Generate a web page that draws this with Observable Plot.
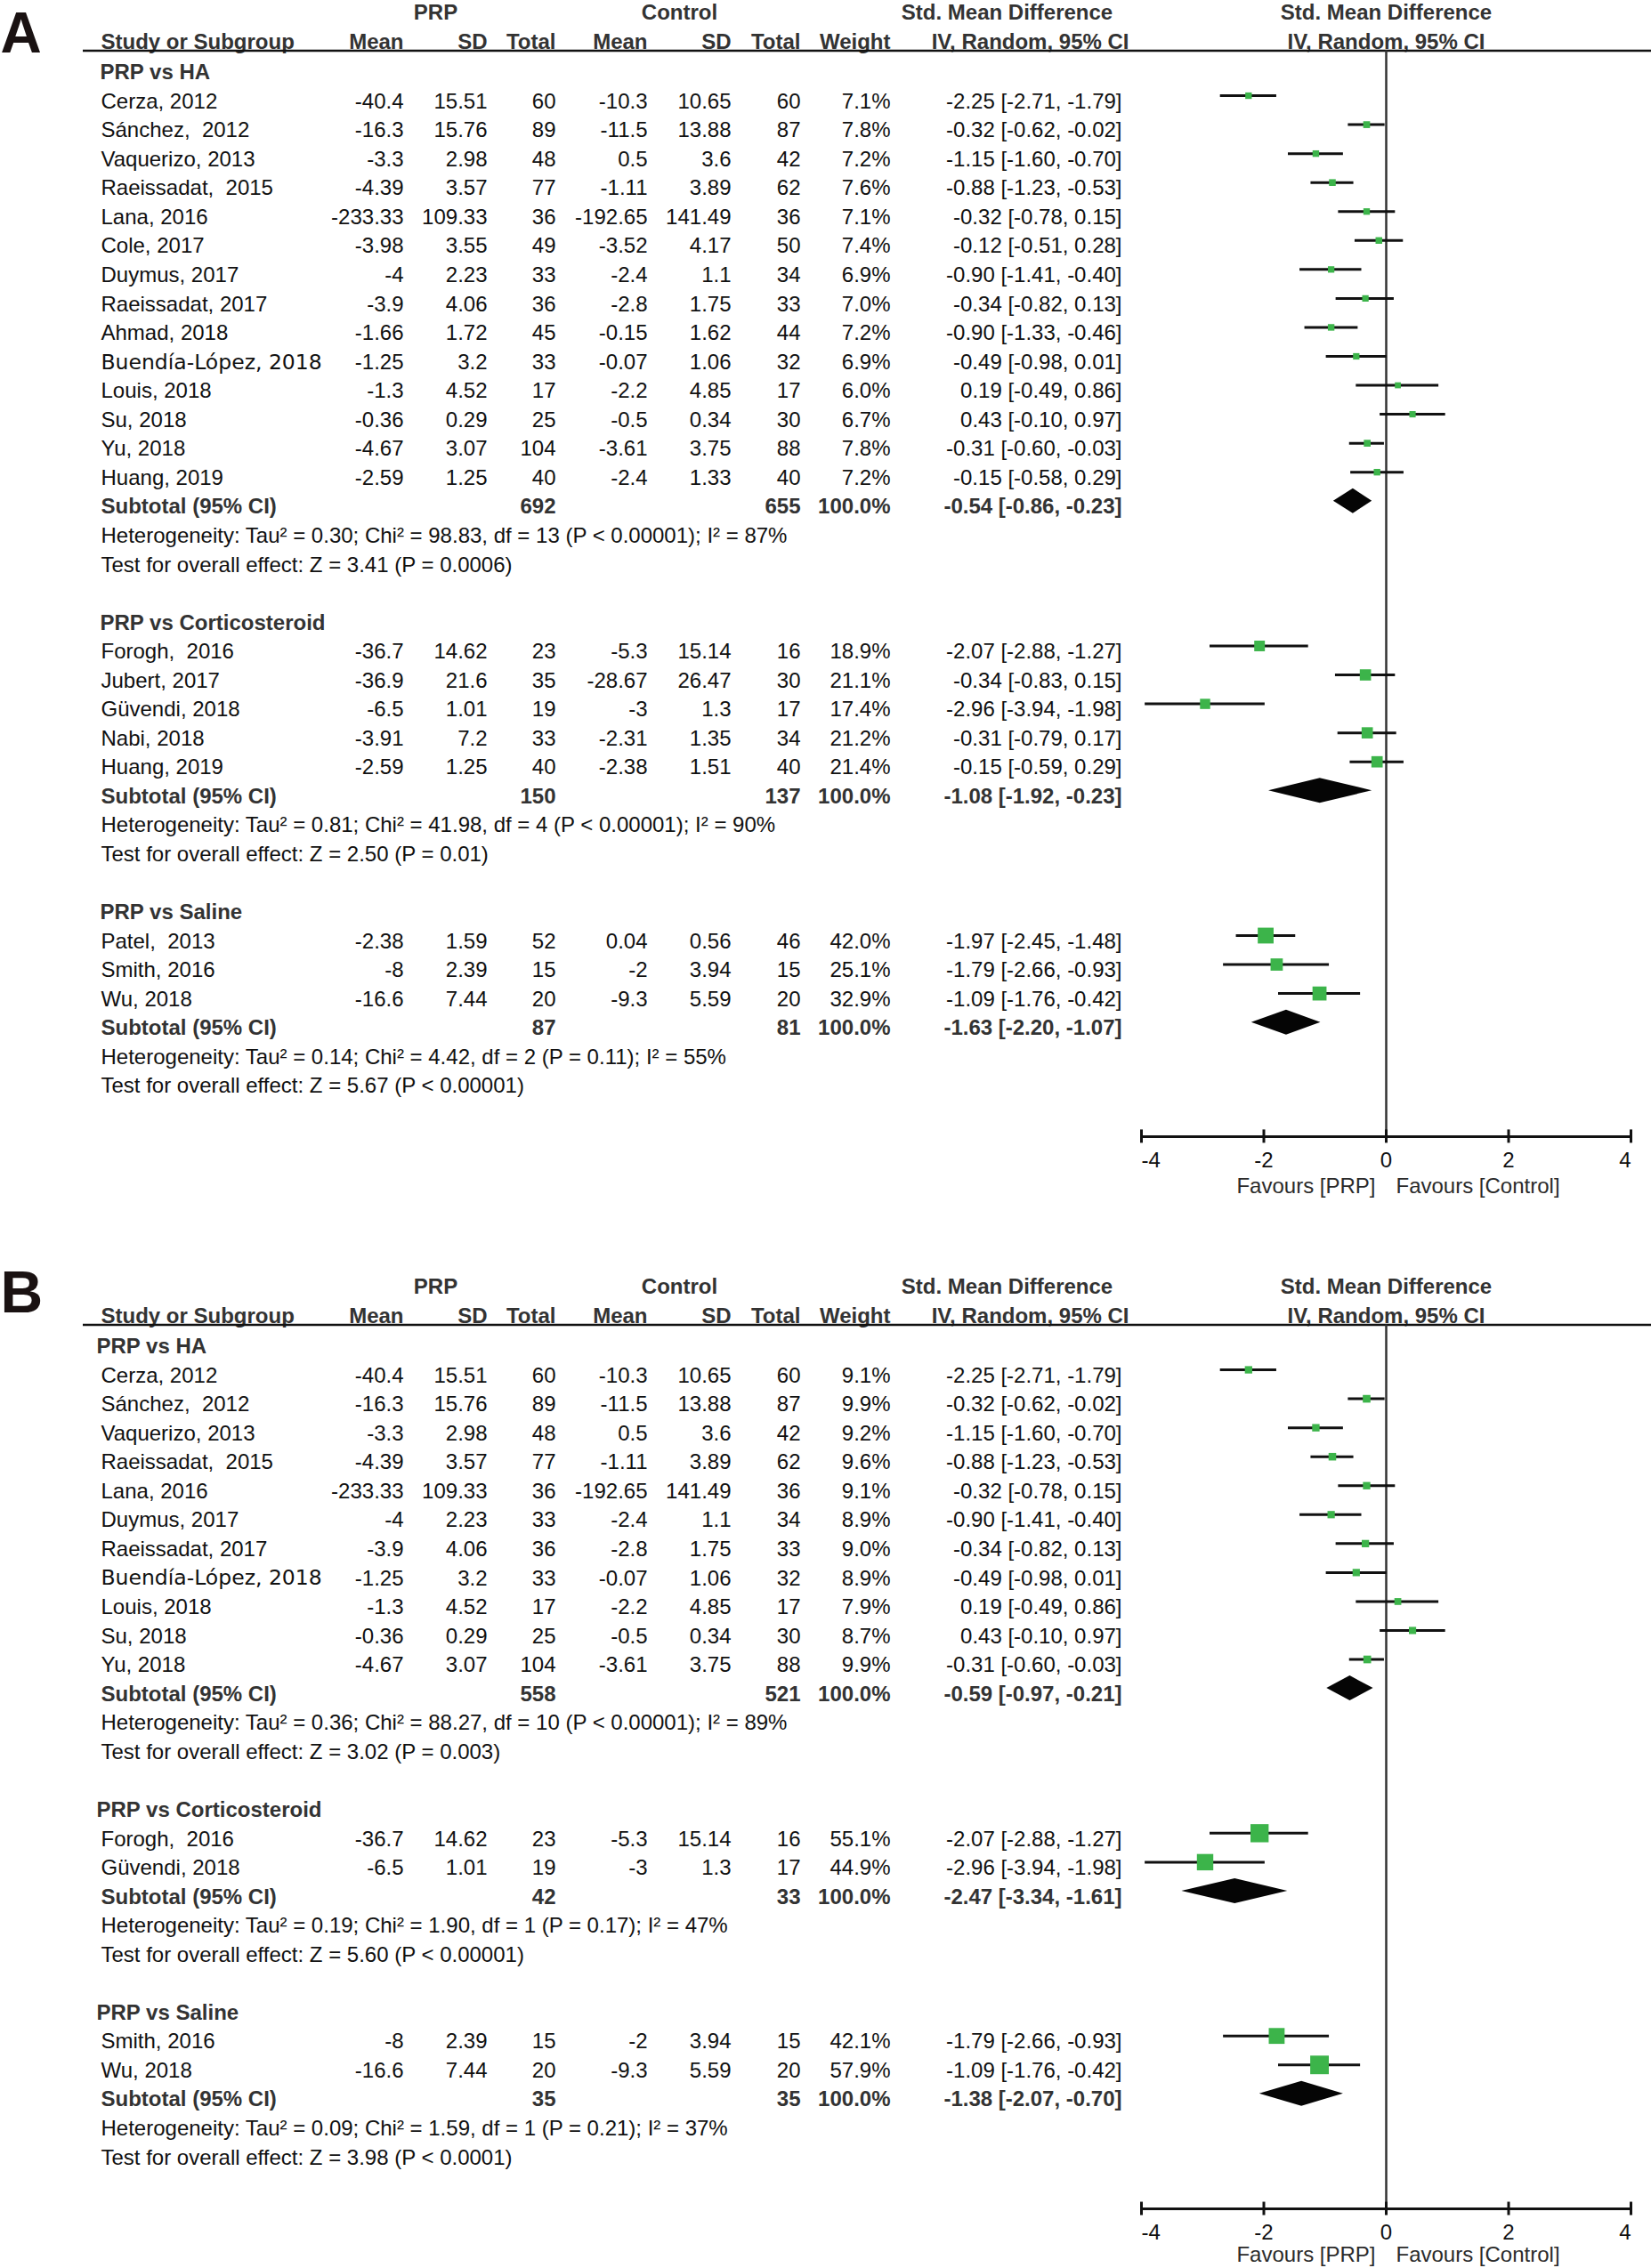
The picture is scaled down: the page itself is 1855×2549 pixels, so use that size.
<!DOCTYPE html>
<html>
<head>
<meta charset="utf-8">
<script src="https://cdn.jsdelivr.net/npm/d3@7"></script>
<script src="https://cdn.jsdelivr.net/npm/@observablehq/plot@0.6"></script>
<style>
  body { margin: 0; background: #fff; }
  #chart svg { display: block; }
</style>
</head>
<body>
<div id="chart"></div>
<script>
// ---------------- DATA ----------------
// study rows: [name, PRP mean, PRP SD, PRP total, Ctl mean, Ctl SD, Ctl total, weight %, SMD, CI low, CI high]
const subgroupNames = ["PRP vs HA", "PRP vs Corticosteroid", "PRP vs Saline"];

const A_HA = [
  ["Cerza, 2012", -40.4, 15.51, 60, -10.3, 10.65, 60, 7.1, -2.25, -2.71, -1.79],
  ["Sánchez,\u00a0 2012", -16.3, 15.76, 89, -11.5, 13.88, 87, 7.8, -0.32, -0.62, -0.02],
  ["Vaquerizo, 2013", -3.3, 2.98, 48, 0.5, 3.6, 42, 7.2, -1.15, -1.60, -0.70],
  ["Raeissadat,\u00a0 2015", -4.39, 3.57, 77, -1.11, 3.89, 62, 7.6, -0.88, -1.23, -0.53],
  ["Lana, 2016", -233.33, 109.33, 36, -192.65, 141.49, 36, 7.1, -0.32, -0.78, 0.15],
  ["Cole, 2017", -3.98, 3.55, 49, -3.52, 4.17, 50, 7.4, -0.12, -0.51, 0.28],
  ["Duymus, 2017", -4, 2.23, 33, -2.4, 1.1, 34, 6.9, -0.90, -1.41, -0.40],
  ["Raeissadat, 2017", -3.9, 4.06, 36, -2.8, 1.75, 33, 7.0, -0.34, -0.82, 0.13],
  ["Ahmad, 2018", -1.66, 1.72, 45, -0.15, 1.62, 44, 7.2, -0.90, -1.33, -0.46],
  ["Buendía-López, 2018", -1.25, 3.2, 33, -0.07, 1.06, 32, 6.9, -0.49, -0.98, 0.01],
  ["Louis, 2018", -1.3, 4.52, 17, -2.2, 4.85, 17, 6.0, 0.19, -0.49, 0.86],
  ["Su, 2018", -0.36, 0.29, 25, -0.5, 0.34, 30, 6.7, 0.43, -0.10, 0.97],
  ["Yu, 2018", -4.67, 3.07, 104, -3.61, 3.75, 88, 7.8, -0.31, -0.60, -0.03],
  ["Huang, 2019", -2.59, 1.25, 40, -2.4, 1.33, 40, 7.2, -0.15, -0.58, 0.29]
];
const A_CS = [
  ["Forogh,\u00a0 2016", -36.7, 14.62, 23, -5.3, 15.14, 16, 18.9, -2.07, -2.88, -1.27],
  ["Jubert, 2017", -36.9, 21.6, 35, -28.67, 26.47, 30, 21.1, -0.34, -0.83, 0.15],
  ["Güvendi, 2018", -6.5, 1.01, 19, -3, 1.3, 17, 17.4, -2.96, -3.94, -1.98],
  ["Nabi, 2018", -3.91, 7.2, 33, -2.31, 1.35, 34, 21.2, -0.31, -0.79, 0.17],
  ["Huang, 2019", -2.59, 1.25, 40, -2.38, 1.51, 40, 21.4, -0.15, -0.59, 0.29]
];
const A_SA = [
  ["Patel,\u00a0 2013", -2.38, 1.59, 52, 0.04, 0.56, 46, 42.0, -1.97, -2.45, -1.48],
  ["Smith, 2016", -8, 2.39, 15, -2, 3.94, 15, 25.1, -1.79, -2.66, -0.93],
  ["Wu, 2018", -16.6, 7.44, 20, -9.3, 5.59, 20, 32.9, -1.09, -1.76, -0.42]
];
// subtotals: [PRP total, Ctl total, SMD, CI low, CI high]
const A_subtotals = [[692, 655, -0.54, -0.86, -0.23], [150, 137, -1.08, -1.92, -0.23], [87, 81, -1.63, -2.20, -1.07]];
const A_het = [
  "Heterogeneity: Tau² = 0.30; Chi² = 98.83, df = 13 (P < 0.00001); I² = 87%",
  "Heterogeneity: Tau² = 0.81; Chi² = 41.98, df = 4 (P < 0.00001); I² = 90%",
  "Heterogeneity: Tau² = 0.14; Chi² = 4.42, df = 2 (P = 0.11); I² = 55%"
];
const A_test = [
  "Test for overall effect: Z = 3.41 (P = 0.0006)",
  "Test for overall effect: Z = 2.50 (P = 0.01)",
  "Test for overall effect: Z = 5.67 (P < 0.00001)"
];

const B_HA = [
  ["Cerza, 2012", -40.4, 15.51, 60, -10.3, 10.65, 60, 9.1, -2.25, -2.71, -1.79],
  ["Sánchez,\u00a0 2012", -16.3, 15.76, 89, -11.5, 13.88, 87, 9.9, -0.32, -0.62, -0.02],
  ["Vaquerizo, 2013", -3.3, 2.98, 48, 0.5, 3.6, 42, 9.2, -1.15, -1.60, -0.70],
  ["Raeissadat,\u00a0 2015", -4.39, 3.57, 77, -1.11, 3.89, 62, 9.6, -0.88, -1.23, -0.53],
  ["Lana, 2016", -233.33, 109.33, 36, -192.65, 141.49, 36, 9.1, -0.32, -0.78, 0.15],
  ["Duymus, 2017", -4, 2.23, 33, -2.4, 1.1, 34, 8.9, -0.90, -1.41, -0.40],
  ["Raeissadat, 2017", -3.9, 4.06, 36, -2.8, 1.75, 33, 9.0, -0.34, -0.82, 0.13],
  ["Buendía-López, 2018", -1.25, 3.2, 33, -0.07, 1.06, 32, 8.9, -0.49, -0.98, 0.01],
  ["Louis, 2018", -1.3, 4.52, 17, -2.2, 4.85, 17, 7.9, 0.19, -0.49, 0.86],
  ["Su, 2018", -0.36, 0.29, 25, -0.5, 0.34, 30, 8.7, 0.43, -0.10, 0.97],
  ["Yu, 2018", -4.67, 3.07, 104, -3.61, 3.75, 88, 9.9, -0.31, -0.60, -0.03]
];
const B_CS = [
  ["Forogh,\u00a0 2016", -36.7, 14.62, 23, -5.3, 15.14, 16, 55.1, -2.07, -2.88, -1.27],
  ["Güvendi, 2018", -6.5, 1.01, 19, -3, 1.3, 17, 44.9, -2.96, -3.94, -1.98]
];
const B_SA = [
  ["Smith, 2016", -8, 2.39, 15, -2, 3.94, 15, 42.1, -1.79, -2.66, -0.93],
  ["Wu, 2018", -16.6, 7.44, 20, -9.3, 5.59, 20, 57.9, -1.09, -1.76, -0.42]
];
const B_subtotals = [[558, 521, -0.59, -0.97, -0.21], [42, 33, -2.47, -3.34, -1.61], [35, 35, -1.38, -2.07, -0.70]];
const B_het = [
  "Heterogeneity: Tau² = 0.36; Chi² = 88.27, df = 10 (P < 0.00001); I² = 89%",
  "Heterogeneity: Tau² = 0.19; Chi² = 1.90, df = 1 (P = 0.17); I² = 47%",
  "Heterogeneity: Tau² = 0.09; Chi² = 1.59, df = 1 (P = 0.21); I² = 37%"
];
const B_test = [
  "Test for overall effect: Z = 3.02 (P = 0.003)",
  "Test for overall effect: Z = 5.60 (P < 0.00001)",
  "Test for overall effect: Z = 3.98 (P < 0.0001)"
];

const headerTop = ["PRP", "Control", "Std. Mean Difference"];
const headerSub = ["Study or Subgroup", "Mean", "SD", "Total", "Mean", "SD", "Total", "Weight", "IV, Random, 95% CI"];
const forestHeader = ["Std. Mean Difference", "IV, Random, 95% CI"];
const axisTicks = [-4, -2, 0, 2, 4];
const favours = ["Favours [PRP]", "Favours [Control]"];
const panelLetters = ["A", "B"];
const altFontStudies = ["Buendía-López, 2018"];

// ---------------- LAYOUT ----------------
const W = 1855;
const FONT = "'Liberation Sans', Arial, Helvetica, sans-serif";
const ROWH = 32.55;
const L = 93;                       // left edge of frame (header rule start)
const colPos = {label: 113, pm: 453, psd: 547, pn: 624, cm: 727, csd: 821, cn: 899, w: 1000, ci: 1260};
const headTopPos = [[489, "middle"], [763, "middle"], [1131, "middle"]];
const headSubPos = [[113, "start"], [453, "end"], [547, "end"], [624, "end"], [727, "end"], [821, "end"], [899, "end"], [1000, "end"], [1268, "end"]];
const MOFF = -0.2; // marker offset (rows)

const f2 = v => v.toFixed(2);
const ciText = (e, l, h) => `${f2(e)} [${f2(l)}, ${f2(h)}]`;
const tickFmt = d => (d < 0 ? "-" : "") + Math.abs(d);

function buildRows(groups, subtotals, het, test) {
  const rows = [];
  let k = 0;
  groups.forEach((studies, gi) => {
    rows.push({k, kind: "group", label: subgroupNames[gi]}); k++;
    studies.forEach(s => {
      rows.push({k, kind: "study", label: s[0], pm: String(s[1]), psd: String(s[2]), pn: String(s[3]),
        cm: String(s[4]), csd: String(s[5]), cn: String(s[6]), wv: s[7], w: s[7].toFixed(1) + "%",
        est: s[8], lo: s[9], hi: s[10], ci: ciText(s[8], s[9], s[10])});
      k++;
    });
    const t = subtotals[gi];
    rows.push({k, kind: "subtotal", label: "Subtotal (95% CI)", pn: String(t[0]), cn: String(t[1]), w: "100.0%",
      est: t[2], lo: t[3], hi: t[4], ci: ciText(t[2], t[3], t[4])}); k++;
    rows.push({k, kind: "het", label: het[gi]}); k++;
    rows.push({k, kind: "test", label: test[gi]}); k++;
    k++;
  });
  return rows;
}

function panel(rows, o) {
  const studies = rows.filter(d => d.kind === "study");
  const subs = rows.filter(d => d.kind === "subtotal");
  const groups = rows.filter(d => d.kind === "group");
  const plain = rows.filter(d => (d.kind === "study" && !altFontStudies.includes(d.label)) || d.kind === "het" || d.kind === "test");
  const alt = rows.filter(d => d.kind === "study" && altFontStudies.includes(d.label));
  const col = (data, field, anchor, extra = {}) => Plot.text(data, {
    frameAnchor: "left", dx: colPos[field] - L, y: "k", text: field, textAnchor: anchor,
    fontSize: 24, fill: "#111", fontFamily: FONT, ...extra
  });
  const bold = {fontWeight: "bold", fill: "#333"};
  const diamonds = subs.flatMap(s => {
    const c = s.k + MOFF;
    return [{z: s.k, x: s.lo, y1: c, y2: c}, {z: s.k, x: s.est, y1: c - 0.43, y2: c + 0.43}, {z: s.k, x: s.hi, y1: c, y2: c}];
  });
  const axisRow = o.axisRow;
  const labRow = axisRow + 0.83;
  const favRow = axisRow + o.favOff;
  const tickText = (data, anchor) => Plot.text(data, {x: d => d, y: labRow, text: tickFmt, textAnchor: anchor,
    fontSize: 24, fill: "#111", fontFamily: FONT});
  return Plot.plot({
    width: W, height: o.height,
    marginLeft: L, marginRight: 0, marginTop: 0, marginBottom: 0,
    style: {fontFamily: FONT, background: "#fff"},
    x: {domain: [-4, 4], range: [1282, 1832], axis: null},
    y: {domain: [0, 10], range: [o.row0, o.row0 + 10 * ROWH], axis: null},
    r: {type: "sqrt", domain: [0, 100], range: [0, 15.5]},
    marks: [
      // panel letter
      Plot.text([panelLetters[o.idx]], {frameAnchor: "left", dx: -L, y: o.letterRow, text: d => d,
        fontSize: o.letterSize, fontWeight: "bold", fill: "#1a1212", textAnchor: "start", fontFamily: FONT}),
      // headers
      ...headerTop.map((h, i) => Plot.text([h], {frameAnchor: "left", dx: headTopPos[i][0] - L, y: -2.06, text: d => d,
        textAnchor: headTopPos[i][1], fontSize: 24, fontFamily: FONT, ...bold})),
      ...headerSub.map((h, i) => Plot.text([h], {frameAnchor: "left", dx: headSubPos[i][0] - L, y: -1.06, text: d => d,
        textAnchor: headSubPos[i][1], fontSize: 24, fontFamily: FONT, ...bold})),
      Plot.text([forestHeader[0]], {x: 0, y: -2.06, text: d => d, fontSize: 24, fontFamily: FONT, ...bold}),
      Plot.text([forestHeader[1]], {x: 0, y: -1.06, text: d => d, fontSize: 24, fontFamily: FONT, ...bold}),
      Plot.ruleY([-0.75], {stroke: "#111", strokeWidth: 2.5}),
      // table body
      col(plain, "label", "start"),
      col(alt, "label", "start", {fontFamily: "'DejaVu Sans', sans-serif", fontSize: 23.5}),
      Plot.text(groups, {frameAnchor: "left", dx: o.groupX - L, y: "k", text: "label", textAnchor: "start",
        fontSize: 24, fontFamily: FONT, ...bold}),
      col(subs, "label", "start", bold),
      col(studies, "pm", "end"),
      col(studies, "psd", "end"),
      col(studies, "pn", "end"),
      col(studies, "cm", "end"),
      col(studies, "csd", "end"),
      col(studies, "cn", "end"),
      col(studies, "w", "end"),
      col(studies, "ci", "end"),
      col(subs, "pn", "end", bold),
      col(subs, "cn", "end", bold),
      col(subs, "w", "end", bold),
      col(subs, "ci", "end", bold),
      // forest
      Plot.ruleX([0], {y1: -0.75, y2: axisRow, stroke: "#333", strokeWidth: 2.5}),
      Plot.ruleY(studies, {x1: "lo", x2: "hi", y: d => d.k + MOFF, stroke: "#111", strokeWidth: 3}),
      Plot.dot(studies, {x: "est", y: d => d.k + MOFF, r: "wv", symbol: "square", fill: "#3cb44a", stroke: "none"}),
      Plot.areaY(diamonds, {x: "x", y1: "y1", y2: "y2", z: "z", fill: "#050505"}),
      // axis
      Plot.ruleY([axisRow], {x1: d3.min(axisTicks), x2: d3.max(axisTicks), stroke: "#111", strokeWidth: 3}),
      Plot.ruleX(axisTicks, {x: d => d, y1: axisRow - 0.23, y2: axisRow + 0.23, stroke: "#111", strokeWidth: 3}),
      tickText(axisTicks.slice(0, 1), "start"),
      tickText(axisTicks.slice(1, -1), "middle"),
      tickText(axisTicks.slice(-1), "end"),
      Plot.text([favours[0]], {x: 0, y: favRow, text: d => d, textAnchor: "end", dx: -12,
        fontSize: 24, fill: "#2b2b2b", fontFamily: FONT}),
      Plot.text([favours[1]], {x: 0, y: favRow, text: d => d, textAnchor: "start", dx: 11,
        fontSize: 24, fill: "#2b2b2b", fontFamily: FONT})
    ]
  });
}

const rowsA = buildRows([A_HA, A_CS, A_SA], A_subtotals, A_het, A_test);
const rowsB = buildRows([B_HA, B_CS, B_SA], B_subtotals, B_het, B_test);

const chart = document.getElementById("chart");
chart.append(panel(rowsA, {idx: 0, height: 1380, row0: 81, letterRow: -1.32, letterSize: 64, axisRow: 36.74, favOff: 1.72, groupX: 112}));
chart.append(panel(rowsB, {idx: 1, height: 1169, row0: 133, letterRow: -1.82, letterSize: 66, axisRow: 29.77, favOff: 1.6, groupX: 108}));
</script>
</body>
</html>
